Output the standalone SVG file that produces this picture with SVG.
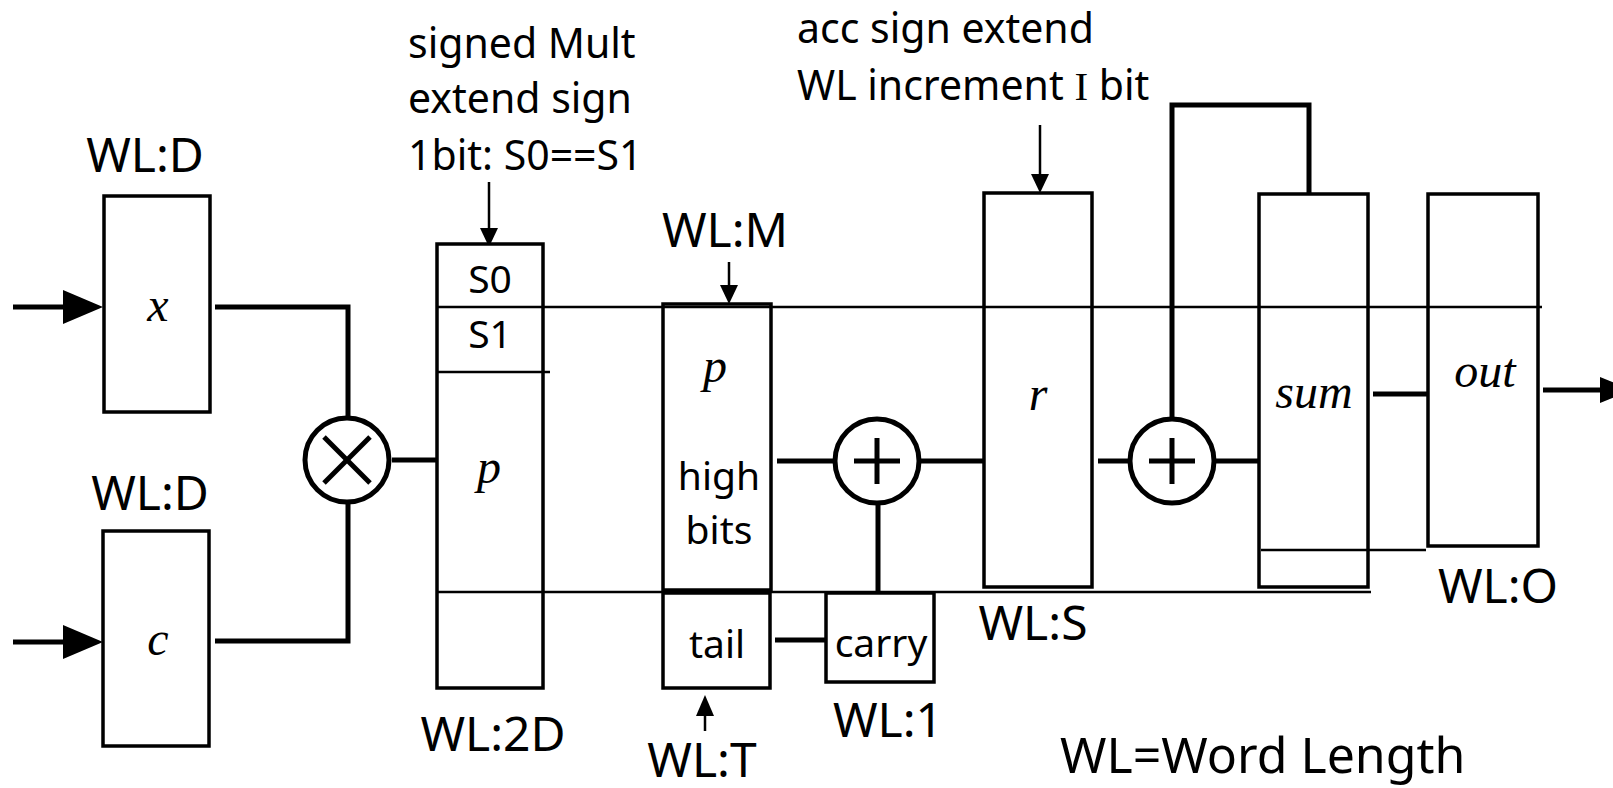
<svg xmlns="http://www.w3.org/2000/svg" width="1613" height="788" viewBox="0 0 1613 788">
<style>
.box{fill:#fff;stroke:#000;stroke-width:3.5}
.thin{stroke:#000;stroke-width:2.5;fill:none}
.thick{stroke:#000;stroke-width:5;fill:none}
.op{fill:#fff;stroke:#000;stroke-width:5}
.t{font-family:"Noto Sans","Open Sans",sans-serif;fill:#000}
.s{font-size:41px}
.m{font-size:39px}
.wl{font-size:48px}
.v{font-family:"Liberation Serif","Times New Roman",serif;font-style:italic;font-size:48px;fill:#000}
</style>
<rect width="1613" height="788" fill="#fff"/>

<g id="connectors">
<!-- inputs -->
<line class="thick" x1="13" y1="307" x2="66" y2="307" stroke-width="6"/>
<polygon points="63,290 103,307 63,324" fill="#000"/>
<line class="thick" x1="13" y1="642" x2="66" y2="642" stroke-width="6"/>
<polygon points="63,625 103,642 63,659" fill="#000"/>
<!-- to multiplier -->
<polyline class="thick" points="215,307 348,307 348,418"/>
<polyline class="thick" points="215,641 348,641 348,502"/>
<line class="thick" x1="392" y1="460" x2="437" y2="460"/>
<!-- adder 1 -->
<line class="thick" x1="777" y1="461" x2="835" y2="461"/>
<line class="thick" x1="919" y1="461" x2="984" y2="461"/>
<line class="thick" x1="878" y1="503" x2="878" y2="592"/>
<line class="thick" x1="775" y1="640" x2="826" y2="640"/>
<!-- adder 2 -->
<line class="thick" x1="1098" y1="461" x2="1130" y2="461"/>
<line class="thick" x1="1214" y1="461" x2="1259" y2="461"/>
<polyline class="thick" points="1172,419 1172,105 1309,105 1309,194"/>
<line class="thick" x1="1373" y1="394" x2="1428" y2="394"/>
<line class="thick" x1="1543" y1="390" x2="1602" y2="390" stroke-width="6"/>
<polygon points="1600,377 1632,390 1600,403" fill="#000"/>
<!-- annotation arrows -->
<line class="thin" x1="489" y1="182" x2="489" y2="230"/>
<polygon points="480,228 498,228 489,247" fill="#000"/>
<line class="thin" x1="729" y1="262" x2="729" y2="287"/>
<polygon points="720,285 738,285 729,304" fill="#000"/>
<line class="thin" x1="1040" y1="125" x2="1040" y2="176"/>
<polygon points="1031,174 1049,174 1040,193" fill="#000"/>
<line class="thin" x1="705" y1="731" x2="705" y2="713"/>
<polygon points="696,716 714,716 705,695" fill="#000"/>
</g>

<g id="node-x">
<rect class="box" x="104" y="196" width="106" height="216"/>
<text class="v" x="158" y="321" text-anchor="middle">x</text>
<text class="t wl" x="145" y="172" text-anchor="middle">WL:D</text>
</g>

<g id="node-c">
<rect class="box" x="103" y="531" width="106" height="215"/>
<text class="v" x="158" y="655" text-anchor="middle">c</text>
<text class="t wl" x="150" y="510" text-anchor="middle">WL:D</text>
</g>

<g id="node-mult">
<circle class="op" cx="347" cy="460" r="42"/>
<line class="thick" x1="324" y1="437" x2="370" y2="483" stroke-width="4"/>
<line class="thick" x1="370" y1="437" x2="324" y2="483" stroke-width="4"/>
</g>

<g id="node-p2d">
<rect class="box" x="437" y="244" width="106" height="444"/>
<line class="thin" x1="437" y1="372" x2="550" y2="372"/>
<text class="t m" x="490" y="293" text-anchor="middle">S0</text>
<text class="t m" x="490" y="348" text-anchor="middle">S1</text>
<text class="v" x="489" y="483" text-anchor="middle">p</text>
<text class="t wl" x="493" y="751" text-anchor="middle">WL:2D</text>
<text class="t s" x="408" y="58">signed Mult</text>
<text class="t s" x="408" y="113">extend sign</text>
<text class="t s" x="408" y="170">1bit: S0==S1</text>
</g>

<g id="node-pm">
<rect class="box" x="663" y="304" width="108" height="286"/>
<text class="v" x="715" y="382" text-anchor="middle">p</text>
<text class="t m" x="719" y="490" text-anchor="middle">high</text>
<text class="t m" x="719" y="544" text-anchor="middle">bits</text>
<text class="t wl" x="725" y="247" text-anchor="middle">WL:M</text>
</g>

<g id="node-tail">
<rect class="box" x="663" y="593" width="107" height="95"/>
<text class="t m" x="717" y="658" text-anchor="middle">tail</text>
<text class="t wl" x="702" y="777" text-anchor="middle">WL:T</text>
</g>

<g id="node-add1">
<circle class="op" cx="877" cy="461" r="42"/>
<line class="thick" x1="854" y1="461" x2="900" y2="461" stroke-width="4.5"/>
<line class="thick" x1="877" y1="438" x2="877" y2="484" stroke-width="4.5"/>
</g>

<g id="node-carry">
<rect class="box" x="826" y="593" width="108" height="89"/>
<text class="t m" x="881" y="657" text-anchor="middle">carry</text>
<text class="t wl" x="888" y="737" text-anchor="middle">WL:1</text>
</g>

<g id="node-r">
<rect class="box" x="984" y="193" width="108" height="394"/>
<text class="v" x="1038" y="410" text-anchor="middle">r</text>
<text class="t wl" x="1033" y="640" text-anchor="middle">WL:S</text>
<text class="t s" x="797" y="43">acc sign extend</text>
<text class="t s" x="797" y="100">WL increment <tspan font-family="Liberation Serif, serif">I</tspan> bit</text>
</g>

<g id="node-add2">
<circle class="op" cx="1172" cy="461" r="42"/>
<line class="thick" x1="1149" y1="461" x2="1195" y2="461" stroke-width="4.5"/>
<line class="thick" x1="1172" y1="438" x2="1172" y2="484" stroke-width="4.5"/>
</g>

<g id="node-sum">
<rect class="box" x="1259" y="194" width="109" height="393"/>
<line class="thin" x1="1261" y1="550" x2="1426" y2="550"/>
<text class="v" x="1314" y="408" text-anchor="middle">sum</text>
</g>

<g id="node-out">
<rect class="box" x="1428" y="194" width="110" height="352"/>
<text class="v" x="1485" y="387" text-anchor="middle">out</text>
<text class="t wl" x="1498" y="603" text-anchor="middle">WL:O</text>
</g>

<g id="bus-lines">
<line class="thin" x1="437" y1="307" x2="1542" y2="307"/>
<line class="thin" x1="437" y1="592" x2="1371" y2="592"/>
</g>

<g id="legend">
<text class="t" font-size="50" x="1060" y="773">WL=Word Length</text>
</g>
</svg>
